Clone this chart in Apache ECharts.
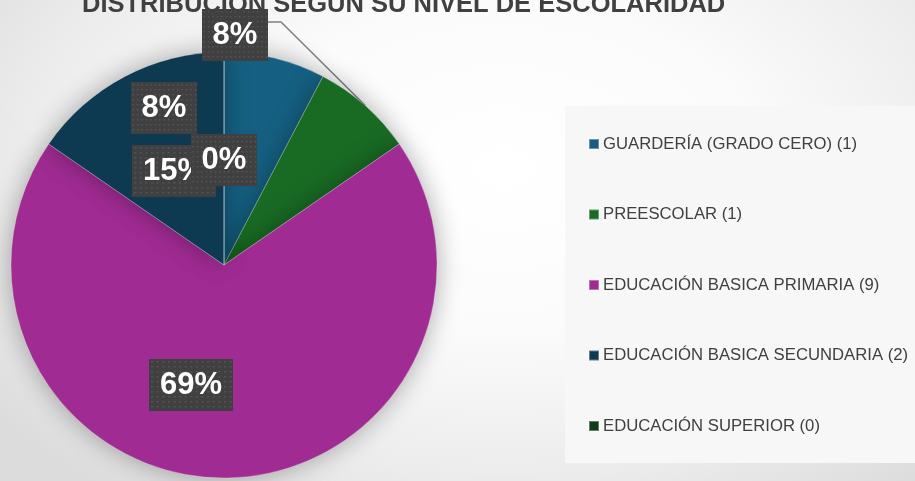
<!DOCTYPE html>
<html>
<head>
<meta charset="utf-8">
<style>
  html, body { margin: 0; padding: 0; }
  #chart {
    width: 915px;
    height: 481px;
    background: radial-gradient(ellipse 70% 85% at 55% 35%, #ffffff 0%, #fbfbfb 40%, #ececec 75%, #dcdcdc 100%);
  }
</style>
<script src="https://cdn.jsdelivr.net/npm/echarts@6/dist/echarts.min.js"></script>
</head>
<body>
<div id="chart"></div>
<script>
// datos
var categories = [
  "GUARDERÍA (GRADO CERO) (1)",
  "PREESCOLAR (1)",
  "EDUCACIÓN BASICA PRIMARIA (9)",
  "EDUCACIÓN BASICA SECUNDARIA (2)",
  "EDUCACIÓN SUPERIOR (0)"
];
var counts = [1, 1, 9, 2, 0];

var colors = ["#156082", "#196b24", "#a02b93", "#0d3a51", "#0f3d17"];
// centro de cada etiqueta (como quedaron en el original)
var labelPos = [[164, 108], [235, 35], [191, 385], [174, 171], [224, 160]];

// fondo punteado de las etiquetas
function dotPattern() {
  var c = document.createElement("canvas");
  c.width = 75;
  c.height = 52;
  var ctx = c.getContext("2d");
  ctx.fillStyle = "#404040";
  ctx.fillRect(0, 0, c.width, c.height);
  ctx.fillStyle = "#585858";
  for (var x = 2; x < c.width; x += 5) {
    for (var y = 2; y < c.height; y += 5) {
      ctx.fillRect(x, y, 1.5, 1.5);
    }
  }
  return c;
}
var pattern = dotPattern();

var dom = document.getElementById("chart");
var myChart = echarts.init(dom, null, { renderer: "canvas" });

var option = {
  color: colors,
  title: {
    text: "DISTRIBUCIÓN SEGÚN SU NIVEL DE ESCOLARIDAD",
    left: 82,
    top: -8,
    padding: 0,
    textStyle: {
      fontFamily: "Liberation Sans",
      fontSize: 25.5,
      fontWeight: "bold",
      color: "#404040"
    }
  },
  legend: {
    orient: "vertical",
    left: 565,
    top: 106,
    width: 350,
    padding: [28, 40, 27, 23],
    backgroundColor: "#f7f7f7",
    itemWidth: 10,
    itemHeight: 10,
    itemGap: 50.5,
    icon: "rect",
    textStyle: {
      fontFamily: "Liberation Sans",
      fontSize: 16.7,
      lineHeight: 20,
      color: "#404040",
      padding: [0, 0, 0, -1]
    },
    data: categories
  },
  series: [
    {
      type: "pie",
      center: [224, 265],
      radius: 213,
      startAngle: 90,
      clockwise: true,
      avoidLabelOverlap: false,
      percentPrecision: 0,
      itemStyle: {
        borderColor: "rgba(255,255,255,0.35)",
        borderWidth: 0.7,
        shadowBlur: 26,
        shadowColor: "rgba(0,0,0,0.33)"
      },
      label: {
        show: true,
        position: "inside",
        formatter: "{d}%",
        fontFamily: "Liberation Sans",
        fontSize: 31,
        fontWeight: "bold",
        color: "#ffffff",
        lineHeight: 32,
        padding: [10, 11],
        backgroundColor: { image: pattern },
        shadowBlur: 5,
        shadowOffsetX: 2,
        shadowOffsetY: 3,
        shadowColor: "rgba(0,0,0,0.45)"
      },
      labelLine: { show: false },
      labelLayout: function (params) {
        var i = params.dataIndex;
        var p = labelPos[i];
        var res = { x: p[0], y: p[1], align: "center", verticalAlign: "middle" };
        if (i === 1) {
          // punto medio del borde de la porción
          var before = 0, total = 0;
          for (var k = 0; k < counts.length; k++) {
            total += counts[k];
            if (k < i) before += counts[k];
          }
          var ang = (before + counts[i] / 2) / total * 2 * Math.PI;
          var edge = [224 + 213 * Math.sin(ang), 265 - 213 * Math.cos(ang)];
          res.labelLinePoints = [edge, [281, 22], [268, 22]];
        }
        return res;
      },
      data: categories.map(function (name, i) {
        var item = { name: name, value: counts[i] };
        if (i === 1) {
          item.label = { position: "outside" };
          item.labelLine = {
            show: true,
            lineStyle: { color: "#808080", width: 1.5 }
          };
        }
        return item;
      })
    }
  ]
};

if (option && typeof option === "object") {
  myChart.setOption(option, true);
}
</script>
</body>
</html>
